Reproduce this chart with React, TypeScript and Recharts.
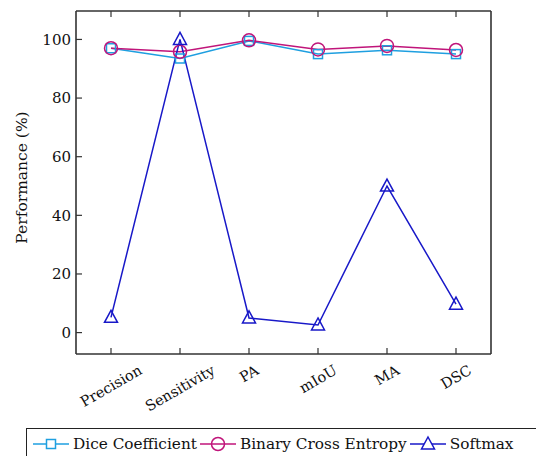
import { Line, LineChart, XAxis, YAxis } from 'recharts';

const metrics = ['Precision', 'Sensitivity', 'PA', 'mIoU', 'MA', 'DSC'];
const diceValues = [97.0, 93.5, 99.5, 95.0, 96.3, 95.0];
const bceValues = [97.0, 95.8, 99.7, 96.6, 97.8, 96.4];
const softmaxValues = [5.2, 100, 5.0, 2.6, 50, 9.7];
const yTicks = [0, 20, 40, 60, 80, 100];

const data = metrics.map((name, i) => ({
	name,
	dice: diceValues[i],
	bce: bceValues[i],
	softmax: softmaxValues[i],
}));

const FONT = '"DejaVu Serif", serif';
const AXIS = '#333';
const CYAN = '#1e9fe0';
const MAGENTA = '#c0157a';
const BLUE = '#1818c8';

let ctx: CanvasRenderingContext2D | null = null;
function textWidth(s: string, size: number) {
	if (!ctx) ctx = document.createElement('canvas').getContext('2d');
	if (!ctx) return s.length * size * 0.55;
	ctx.font = `${size}px "DejaVu Serif"`;
	return ctx.measureText(s).width;
}

const BottomTick = ({ x, y, payload }: any) => {
	const size = 14.5;
	const L = textWidth(payload.value, size);
	const cy = y + 9 + L / 4 + size * 0.4;
	return (
		<g>
			<line x1={x} y1={y} x2={x} y2={y - 6} stroke={AXIS} strokeWidth={1.2} />
			<text
				x={x}
				y={cy}
				dy="0.35em"
				textAnchor="middle"
				transform={`rotate(-30 ${x} ${cy})`}
				fontFamily={FONT}
				fontSize={size}
				fill="#111"
			>
				{payload.value}
			</text>
		</g>
	);
};

const TopTick = ({ x, y }: any) => (
	<line x1={x} y1={y} x2={x} y2={y + 6} stroke={AXIS} strokeWidth={1.2} />
);

const LeftTick = ({ x, y, payload }: any) => (
	<g>
		<line x1={x} y1={y} x2={x + 6} y2={y} stroke={AXIS} strokeWidth={1.2} />
		<text x={x - 5} y={y} dy="0.35em" textAnchor="end" fontFamily={FONT} fontSize={15} fill="#111">
			{payload.value}
		</text>
	</g>
);

const RightTick = ({ x, y }: any) => (
	<line x1={x} y1={y} x2={x - 6} y2={y} stroke={AXIS} strokeWidth={1.2} />
);

const squareDot = (p: any) => (
	<rect key={`s${p.index}`} x={p.cx - 4.5} y={p.cy - 4.5} width={9} height={9} fill="none" stroke={CYAN} strokeWidth={1.5} />
);
const circleDot = (p: any) => (
	<circle key={`c${p.index}`} cx={p.cx} cy={p.cy} r={6.5} fill="none" stroke={MAGENTA} strokeWidth={1.5} />
);
const triDot = (p: any) => (
	<path
		key={`t${p.index}`}
		d={`M${p.cx},${p.cy - 7} L${p.cx + 6.5},${p.cy + 5} L${p.cx - 6.5},${p.cy + 5} Z`}
		fill="none"
		stroke={BLUE}
		strokeWidth={1.5}
	/>
);

const legendItems = [
	{ label: 'Dice Coefficient', color: CYAN, shape: 'square' },
	{ label: 'Binary Cross Entropy', color: MAGENTA, shape: 'circle' },
	{ label: 'Softmax', color: BLUE, shape: 'triangle' },
];

function LegendIcon({ color, shape }: { color: string; shape: string }) {
	return (
		<svg width={36} height={20} style={{ display: 'block' }}>
			<line x1={0} y1={10} x2={36} y2={10} stroke={color} strokeWidth={1.5} />
			{shape === 'square' && <rect x={13.5} y={5.5} width={9} height={9} fill="white" stroke={color} strokeWidth={1.5} />}
			{shape === 'circle' && <circle cx={18} cy={10} r={6.5} fill="none" stroke={color} strokeWidth={1.5} />}
			{shape === 'triangle' && <path d="M18,3 L24.5,15 L11.5,15 Z" fill="white" stroke={color} strokeWidth={1.5} />}
		</svg>
	);
}

export default function App() {
	return (
		<div style={{ position: 'absolute', left: 0, top: 0, width: 536, height: 456, overflow: 'hidden', background: '#fff' }}>
			<LineChart width={536} height={456} data={data} margin={{ top: 10, right: 44, bottom: 0, left: 0 }}>
				<XAxis
					dataKey="name"
					height={102}
					padding={{ left: 35, right: 35 }}
					tickSize={0}
					tickMargin={0}
					tickLine={false}
					tick={<BottomTick />}
					interval={0}
					axisLine={{ stroke: AXIS, strokeWidth: 1.6 }}
				/>
				<XAxis
					xAxisId="top"
					dataKey="name"
					orientation="top"
					height={1}
					padding={{ left: 35, right: 35 }}
					tickSize={0}
					tickMargin={0}
					tickLine={false}
					tick={<TopTick />}
					interval={0}
					axisLine={{ stroke: AXIS, strokeWidth: 1.6 }}
				/>
				<YAxis
					type="number"
					domain={[-7.3, 109.7]}
					ticks={yTicks}
					width={76}
					tickSize={0}
					tickMargin={0}
					tickLine={false}
					tick={<LeftTick />}
					axisLine={{ stroke: AXIS, strokeWidth: 1.6 }}
					label={({ viewBox }: any) => {
						const lx = viewBox.x + 22;
						const ly = viewBox.y + viewBox.height / 2 - 5;
						return (
							<text
								x={lx}
								y={ly}
								dy="0.35em"
								textAnchor="middle"
								transform={`rotate(-90 ${lx} ${ly})`}
								fontFamily={FONT}
								fontSize={15.5}
								fill="#111"
							>
								Performance (%)
							</text>
						);
					}}
				/>
				<YAxis
					yAxisId="right"
					orientation="right"
					type="number"
					domain={[-7.3, 109.7]}
					ticks={yTicks}
					width={1}
					tickSize={0}
					tickMargin={0}
					tickLine={false}
					tick={<RightTick />}
					axisLine={{ stroke: AXIS, strokeWidth: 1.6 }}
				/>
				<Line dataKey="dice" stroke={CYAN} strokeWidth={1.5} dot={squareDot} isAnimationActive={false} />
				<Line dataKey="bce" stroke={MAGENTA} strokeWidth={1.5} dot={circleDot} isAnimationActive={false} />
				<Line dataKey="softmax" stroke={BLUE} strokeWidth={1.5} dot={triDot} isAnimationActive={false} />
			</LineChart>
			<div
				style={{
					position: 'absolute',
					left: 26,
					top: 428,
					width: 540,
					height: 32,
					border: '1px solid #222',
					display: 'flex',
					alignItems: 'center',
					paddingLeft: 6,
					boxSizing: 'border-box',
					fontFamily: FONT,
					fontSize: 15.3,
					color: '#111',
				}}
			>
				{legendItems.map((it) => (
					<div key={it.label} style={{ display: 'flex', alignItems: 'center', marginRight: 3 }}>
						<LegendIcon color={it.color} shape={it.shape} />
						<span style={{ marginLeft: 4, whiteSpace: 'nowrap' }}>{it.label}</span>
					</div>
				))}
			</div>
		</div>
	);
}
